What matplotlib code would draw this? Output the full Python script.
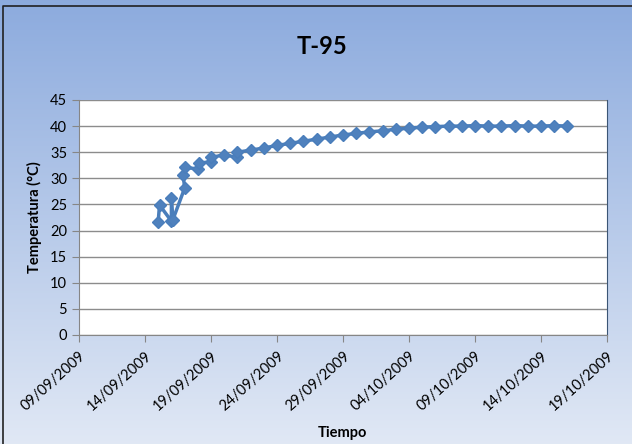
import matplotlib.pyplot as plt
import matplotlib.dates as mdates
import numpy as np
import datetime as dt

# days elapsed since 09/09/2009 and temperature readings
days = [6.0, 6.1, 7.0, 7.0, 7.1, 8.0, 7.9, 8.0, 9.0, 9.1, 10.0, 10.0, 11.0, 12.0, 12.0,
        13, 14, 15, 16, 17, 18, 19, 20, 21, 22, 23, 24, 25, 26, 27,
        28, 29, 30, 31, 32, 33, 34, 35, 36, 37]
temps = [21.7, 24.9, 21.8, 26.2, 22.0, 28.1, 30.6, 32.1, 31.8, 32.9, 33.2, 34.0, 34.5, 34.0, 35.0,
         35.4, 35.8, 36.3, 36.7, 37.1, 37.5, 37.9, 38.3, 38.6, 38.9, 39.1, 39.4, 39.6, 39.8, 39.9,
         40.0, 40.0, 40.1, 40.0, 40.0, 40.1, 40.0, 40.0, 40.1, 40.0]
start = dt.datetime(2009, 9, 9)
tick_dates = [start + dt.timedelta(days=5 * i) for i in range(9)]

plt.rcParams['font.family'] = ['Lato', 'DejaVu Sans']

fig = plt.figure(figsize=(6.32, 4.44), dpi=100)

# gradient background
bg = fig.add_axes([0, 0, 1, 1])
grad = np.linspace(0, 1, 256).reshape(-1, 1)
top = np.array([0.55, 0.67, 0.87])
bot = np.array([0.88, 0.91, 0.96])
img = top[None, None, :] * (1 - grad[:, :, None]) + bot[None, None, :] * grad[:, :, None]
bg.imshow(img, aspect='auto', extent=[0, 1, 0, 1])
bg.plot([0.005, 0.005, 1.0], [0.0, 0.987, 0.987], color='#222222', lw=1.2)
bg.set_xlim(0, 1)
bg.set_ylim(0, 1)
bg.axis('off')

ax = fig.add_axes([79 / 632, 1 - 335 / 444, 528 / 632, 235 / 444])
ax.set_facecolor('white')
x = [start + dt.timedelta(days=d) for d in days]
ax.plot(x, temps, color='#4a7ebb', lw=2.5, marker='D', markersize=6.5,
        markeredgecolor='#4a7ebb', markerfacecolor='#4f81bd')

ax.set_xlim(tick_dates[0], tick_dates[-1])
ax.set_ylim(0, 45)
ax.set_yticks(range(0, 46, 5))
ax.set_xticks(tick_dates)
ax.xaxis.set_major_formatter(mdates.DateFormatter('%d/%m/%Y'))
ax.grid(axis='y', color='#8c8c8c', lw=1)
ax.set_axisbelow(True)
ax.tick_params(axis='both', labelsize=10.5, color='#868686', length=5, direction='out')
for lab in ax.get_xticklabels():
    lab.set_rotation(42)
    lab.set_ha('right')
    lab.set_rotation_mode('anchor')
ax.tick_params(axis='x', pad=5)
for s in ['left', 'bottom']:
    ax.spines[s].set_color('#868686')
ax.spines['top'].set_visible(False)
ax.spines['right'].set_color('#3b5575')

ax.set_ylabel('Temperatura (°C)', fontsize=10.5, fontweight='bold', labelpad=6)
fig.text(342 / 632, 1 - 433 / 444, 'Tiempo', fontsize=10.5, fontweight='bold', ha='center', va='center')
fig.text(322 / 632, 1 - 47 / 444, 'T-95', fontsize=17, fontweight='bold', ha='center', va='center')

fig.savefig('out.png', dpi=100)
